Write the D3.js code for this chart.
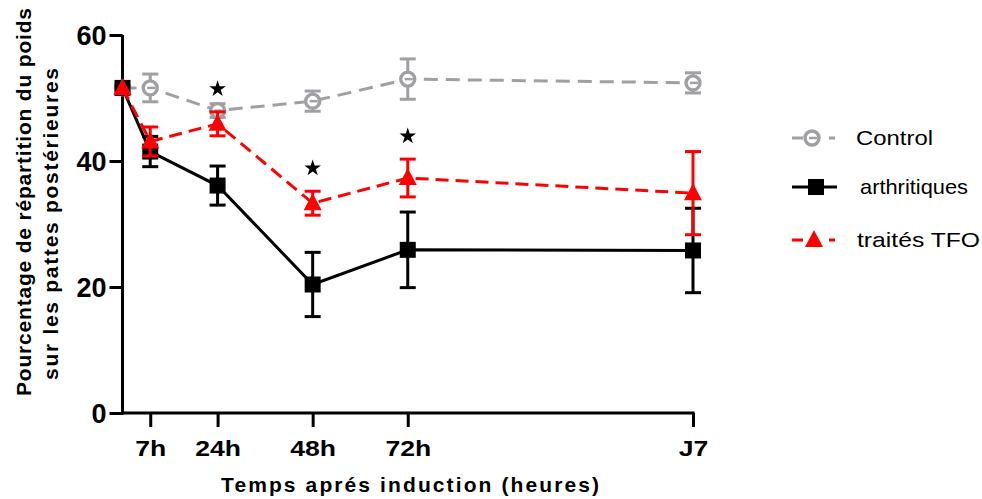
<!DOCTYPE html>
<html><head><meta charset="utf-8">
<script src="https://cdn.jsdelivr.net/npm/d3@7"></script>
<style>body{margin:0;background:#fff}svg{display:block}</style>
</head><body>
<svg id="c" width="982" height="499"></svg>
<script>
const hours = [0, 7, 24, 48, 72, 144];
const tickHours = [7, 24, 48, 72, 144];
const tickLabels = ["7h", "24h", "48h", "72h", "J7"];
const yTicks = [0, 20, 40, 60];
const controlMean = [51.6, 51.6, 48.0, 49.5, 53.0, 52.4];
const controlErr  = [0.0, 2.2, 1.1, 1.6, 3.2, 1.6];
const arthMean = [51.6, 41.5, 36.1, 20.4, 25.9, 25.8];
const arthErr  = [0.0, 2.4, 3.1, 5.1, 6.0, 6.7];
const tfoMean = [51.6, 43.1, 45.9, 33.3, 37.3, 34.9];
const tfoErr  = [0.0, 2.3, 1.9, 1.9, 3.0, 6.6];
const starHours = [24, 48, 72];
const seriesNames = ["Control", "arthritiques", "traités TFO"];

const FONT = "Liberation Sans, Arial, sans-serif";
const svg = d3.select("#c");
const x = d3.scaleLinear().domain([0, 144]).range([122.5, 693]);
const y = d3.scaleLinear().domain([0, 60]).range([413, 35]);

// axes
const yAxis = svg.append("g").attr("transform", "translate(122.5,0)")
  .call(d3.axisLeft(y).tickValues(yTicks).tickSize(13).tickPadding(3).tickFormat(d3.format("d")));
yAxis.selectAll("path,line").attr("stroke", "#000").attr("stroke-width", 3);
yAxis.select(".domain").attr("d", `M0,${y(60)}V${y(0)+1.5}`);
yAxis.selectAll("text").attr("font-family", FONT)
  .attr("font-weight", "bold").attr("font-size", 27).attr("fill", "#000").attr("dy", "0.36em");

const xAxis = svg.append("g").attr("transform", `translate(0,${y(0)})`)
  .call(d3.axisBottom(x).tickValues(tickHours).tickSize(14).tickPadding(13)
    .tickFormat((d, i) => tickLabels[i]));
xAxis.selectAll("path,line").attr("stroke", "#000").attr("stroke-width", 3);
xAxis.select(".domain").attr("d", `M${x(0)-1.5},0H${x(144)+1.5}`);
xAxis.selectAll("text").attr("font-family", FONT)
  .attr("font-weight", "bold").attr("font-size", 22.5).attr("fill", "#000")
  .each(function() {
    const len = this.getComputedTextLength();
    d3.select(this).attr("textLength", len * 1.18).attr("lengthAdjust", "spacingAndGlyphs");
  });

// axis titles
svg.append("text").attr("x", 410).attr("y", 492).attr("text-anchor", "middle")
  .attr("font-family", FONT).attr("font-weight", "bold")
  .attr("font-size", 21).attr("textLength", 378).attr("lengthAdjust", "spacing")
  .text("Temps aprés induction (heures)");
svg.append("text").attr("transform", "translate(31,202) rotate(-90)").attr("text-anchor", "middle")
  .attr("font-family", FONT).attr("font-weight", "bold")
  .attr("font-size", 21).attr("textLength", 388).attr("lengthAdjust", "spacing")
  .text("Pourcentage de répartition du poids");
svg.append("text").attr("transform", "translate(58,224) rotate(-90)").attr("text-anchor", "middle")
  .attr("font-family", FONT).attr("font-weight", "bold")
  .attr("font-size", 21).attr("textLength", 312).attr("lengthAdjust", "spacing")
  .text("sur les pattes postérieures");

const series = [
  {name: seriesNames[0], mean: controlMean, err: controlErr, color: "#a0a0a4", dash: "14,8", marker: "circle", lx: 856, lw: 77, mx: 812},
  {name: seriesNames[1], mean: arthMean, err: arthErr, color: "#000000", dash: null, marker: "square", lx: 860, lw: 108, mx: 816},
  {name: seriesNames[2], mean: tfoMean, err: tfoErr, color: "#ff0000", dash: "13,7", marker: "triangle", lx: 857, lw: 123, mx: 814}
];

function drawMarker(g, type, color, cx, cy) {
  if (type === "circle") {
    g.append("circle").attr("cx", cx).attr("cy", cy).attr("r", 7)
      .attr("fill", "#fff").attr("stroke", color).attr("stroke-width", 3.4);
    g.append("line").attr("x1", cx - 3).attr("x2", cx + 5).attr("y1", cy).attr("y2", cy)
      .attr("stroke", color).attr("stroke-width", 2.5);
  } else if (type === "square") {
    g.append("rect").attr("x", cx - 8).attr("y", cy - 8).attr("width", 16).attr("height", 16).attr("fill", color);
  } else {
    g.append("path").attr("d", `M${cx},${cy-10}L${cx+9},${cy+7}L${cx-9},${cy+7}Z`).attr("fill", color);
  }
}

series.forEach(s => {
  const g = svg.append("g");
  const line = d3.line().x((d, i) => x(hours[i])).y(d => y(d));
  g.append("path").attr("d", line(s.mean)).attr("fill", "none").attr("stroke", s.color)
    .attr("stroke-width", 3).attr("stroke-dasharray", s.dash);
  s.mean.forEach((m, i) => {
    if (s.err[i] > 0) {
      const cx = x(hours[i]);
      const y1 = y(m + s.err[i]), y2 = y(m - s.err[i]);
      g.append("line").attr("x1", cx).attr("x2", cx).attr("y1", y1).attr("y2", y2)
        .attr("stroke", s.color).attr("stroke-width", 3);
      [y1, y2].forEach(yy => g.append("line").attr("x1", cx - 8).attr("x2", cx + 8)
        .attr("y1", yy).attr("y2", yy).attr("stroke", s.color).attr("stroke-width", 3));
    }
    drawMarker(g, s.marker, s.color, x(hours[i]), y(m));
  });
});

// stars
starHours.forEach(h => {
  const i = hours.indexOf(h);
  const top = y(tfoMean[i] + tfoErr[i]) - 23;
  svg.append("path").attr("transform", `translate(${x(h)},${top})`)
    .attr("d", d3.symbol().type(d3.symbolStar).size(85)()).attr("fill", "#000");
});

// legend
const legY = [138, 187, 240];
series.forEach((s, k) => {
  const g = svg.append("g");
  const ly = legY[k];
  g.append("line").attr("x1", 792).attr("x2", 837).attr("y1", ly).attr("y2", ly)
    .attr("stroke", s.color).attr("stroke-width", 3).attr("stroke-dasharray", s.dash ? "11,26,6" : null);
  drawMarker(g, s.marker, s.color, s.mx, ly);
  g.append("text").attr("x", s.lx).attr("y", ly).attr("dy", "0.35em")
    .attr("font-family", FONT).attr("font-size", 21)
    .attr("textLength", s.lw).attr("lengthAdjust", "spacingAndGlyphs")
    .text(s.name);
});
</script>
</body></html>
